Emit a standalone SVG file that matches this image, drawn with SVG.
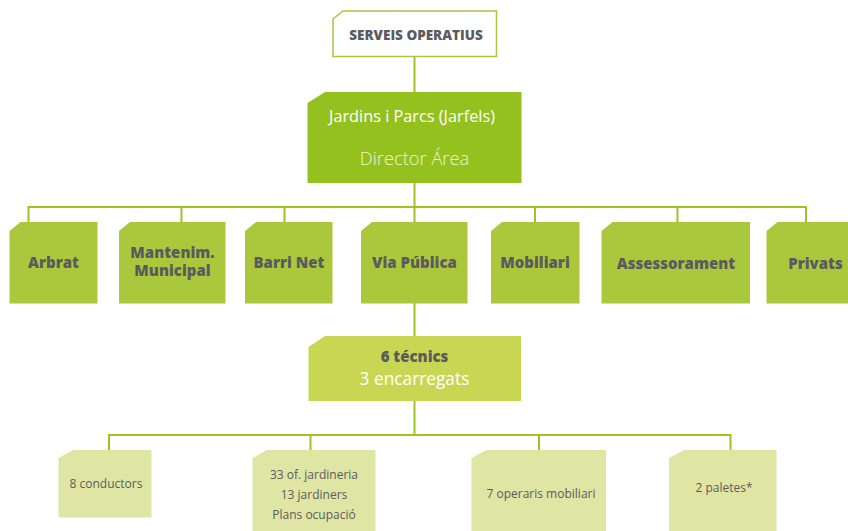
<svg xmlns="http://www.w3.org/2000/svg" width="848" height="531" viewBox="0 0 848 531">
<style>
.conn{stroke:#9cc424;stroke-width:2;fill:none}
.l1{fill:#95c11f}
.l2{fill:#abc83d}
.l3{fill:#c8d753}
.l4{fill:#dfe6a3}
text{font-family:"Open Sans","Liberation Sans",sans-serif;text-anchor:middle}
.gb{fill:#5b5b5f;font-weight:800;font-size:15px}
.g4{fill:#5b5b5f;font-size:12px}
.w{fill:#ffffff}
</style>
<rect width="848" height="531" fill="#ffffff"/>
<g id="connectors">
<path class="conn" d="M414.5 57V92M414.5 183V222M28.5 207H806M28.5 206V222M181.5 207V222M284.5 207V222M535 207V222M677.5 207V222M806 206V222M414.5 303V336M414.5 401V435M109 435H730.5M109 434V450M310.5 435V450M539 435V450M730.5 434V450"/>
</g>
<g id="serveis">
<path d="M343 11H496.5V56.5H333V19Z" fill="#ffffff" stroke="#a9c83c" stroke-width="1.5"/>
<text x="416" y="39.5" style="fill:#5b5b5f;font-weight:800;font-size:13.5px">SERVEIS OPERATIUS</text>
</g>
<g id="director">
<path class="l1" d="M325 92H521.5V183H307.5V103Z"/>
<text class="w" x="412" y="122" style="font-size:16.3px">Jardins i Parcs (Jarfels)</text>
<text x="414.5" y="165" style="fill:#eef4d4;font-size:18.3px;font-weight:300">Director Área</text>
</g>
<g id="arbrat">
<path class="l2" d="M20.5 222H97.5V303.5H9.5V231Z"/>
<text class="gb" x="53.5" y="267.5">Arbrat</text>
</g>
<g id="mantenim">
<path class="l2" d="M130 222H225.5V303.5H119V231Z"/>
<text class="gb" x="172.5" y="257.5">Mantenim.</text>
<text class="gb" x="172.5" y="276">Municipal</text>
</g>
<g id="barrinet">
<path class="l2" d="M256 222H332.5V303.5H245V231Z"/>
<text class="gb" x="289" y="268">Barri Net</text>
</g>
<g id="viapublica">
<path class="l2" d="M372 222H467.5V303.5H361V231Z"/>
<text class="gb" x="414.5" y="268">Via Pública</text>
</g>
<g id="mobiliari">
<path class="l2" d="M502 222H579.5V303.5H491V231Z"/>
<text class="gb" x="535" y="268">Mobiliari</text>
</g>
<g id="assessorament">
<path class="l2" d="M612.5 222H750V303.5H601.5V231Z"/>
<text class="gb" x="676" y="268.5">Assessorament</text>
</g>
<g id="privats">
<path class="l2" d="M777.5 222H870V303.5H766.5V231Z"/>
<text class="gb" x="815.5" y="268.5">Privats</text>
</g>
<g id="tecnics">
<path class="l3" d="M325 336H521V401H308.5V347Z"/>
<text class="gb" x="414.5" y="361.5">6 técnics</text>
<text class="w" x="414.5" y="384.5" style="font-size:17.3px">3 encarregats</text>
</g>
<g id="conductors">
<path class="l4" d="M73 450H151.5V517.5H58.5V458Z"/>
<text class="g4" x="106" y="488">8 conductors</text>
</g>
<g id="jardiners">
<path class="l4" d="M267 450H375.5V540H252.5V458Z"/>
<text class="g4" x="314" y="479">33 of. jardineria</text>
<text class="g4" x="314" y="499">13 jardiners</text>
<text class="g4" x="314" y="519">Plans ocupació</text>
</g>
<g id="operaris">
<path class="l4" d="M486.5 450H606V540H471.5V458Z"/>
<text class="g4" x="541" y="497.5">7 operaris mobiliari</text>
</g>
<g id="paletes">
<path class="l4" d="M684 450H776.5V540H669V458Z"/>
<text class="g4" x="724" y="491.5">2 paletes*</text>
</g>
</svg>
